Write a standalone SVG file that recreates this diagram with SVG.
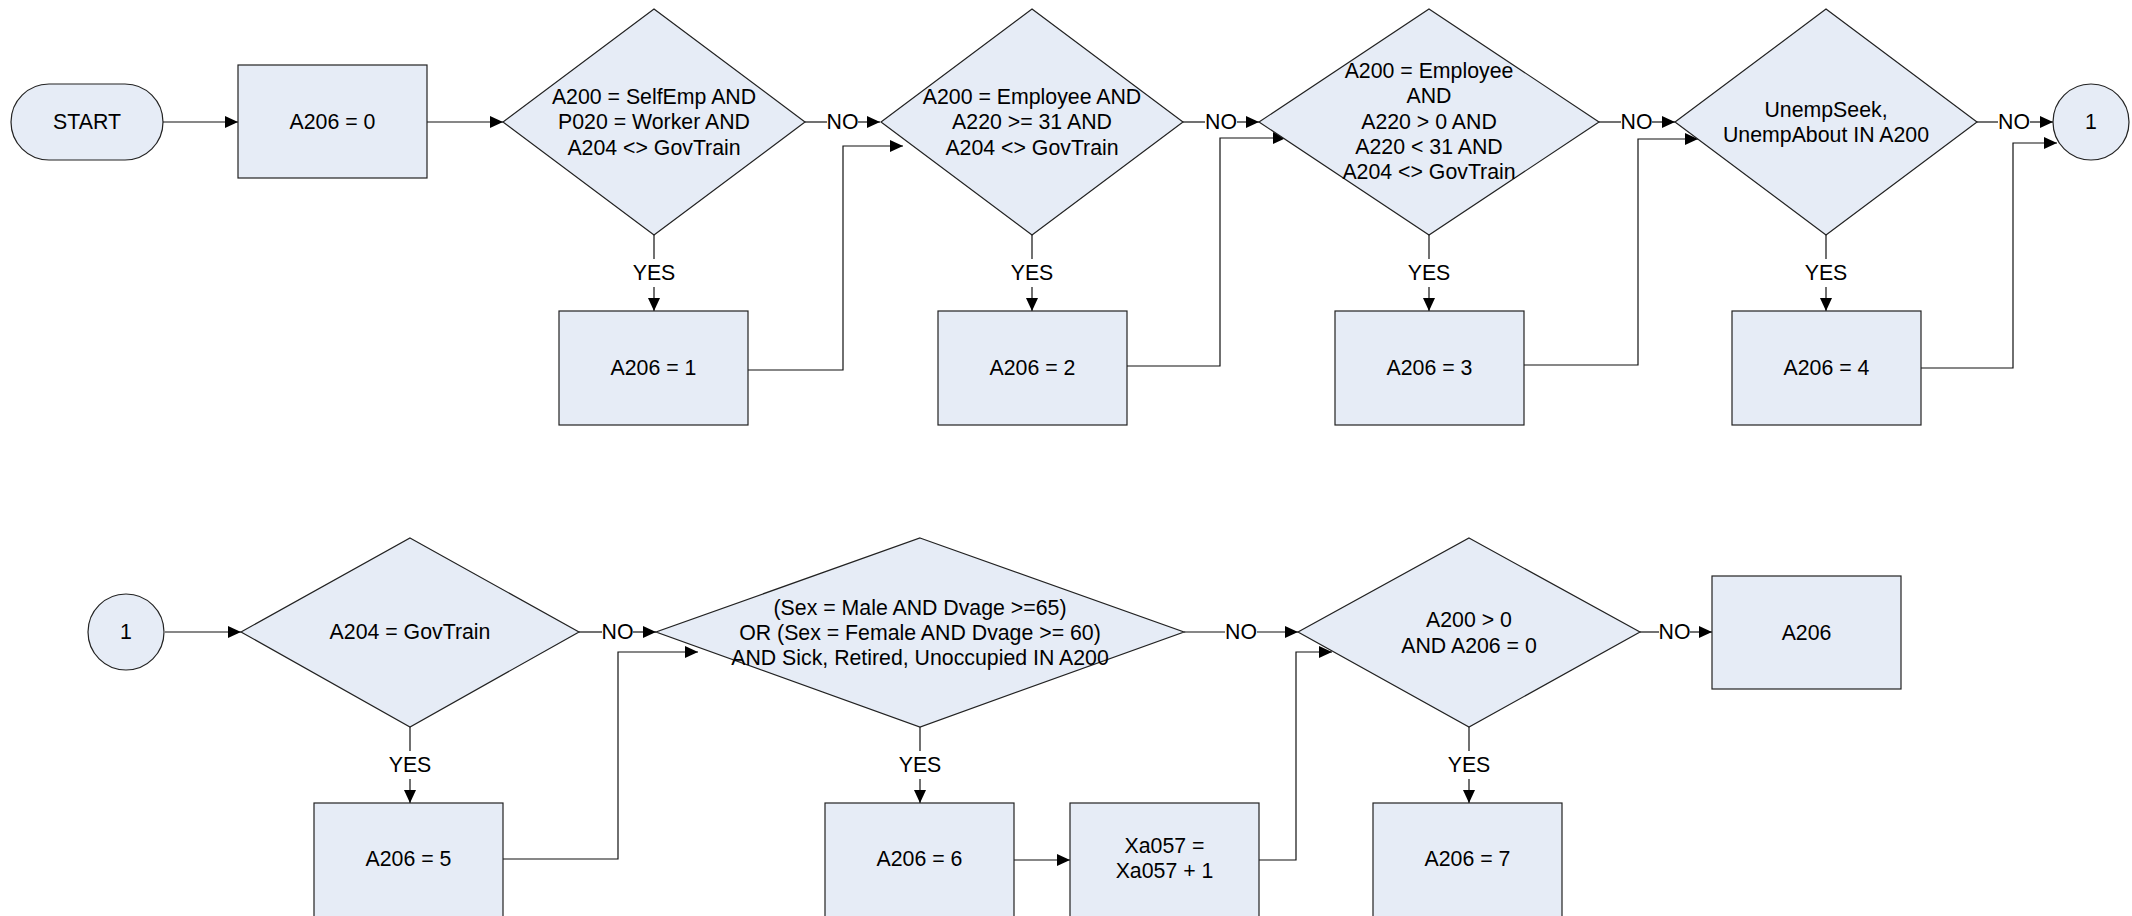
<svg xmlns="http://www.w3.org/2000/svg" width="2132" height="916" viewBox="0 0 2132 916">
<style>
.s{fill:#E6ECF6;stroke:#222;stroke-width:1.2}
.t{font-family:"Liberation Sans",Arial,sans-serif;font-size:21.3px;fill:#000;text-anchor:middle;dominant-baseline:central}
.c{fill:none;stroke:#111;stroke-width:1.2}
.a{marker-end:url(#ah)}
</style>
<defs>
<marker id="ah" viewBox="0 0 13 12" refX="13" refY="6" markerWidth="13" markerHeight="12" markerUnits="userSpaceOnUse" orient="auto">
<path d="M0,0 L13,6 L0,12 z" fill="#000"/>
</marker>
</defs>
<rect width="2132" height="916" fill="#fff"/>

<g id="connectors">
<!-- top row -->
<path class="c a" d="M163,122 H238"/>
<path class="c a" d="M427,122 H503"/>
<path class="c" d="M805,122 H827"/>
<path class="c a" d="M858,122 H880"/>
<path class="c" d="M654,235 V259"/>
<path class="c a" d="M654,287 V311"/>
<path class="c a" d="M748,370 H843 V146 H903"/>
<path class="c" d="M1183,122 H1205"/>
<path class="c a" d="M1237,122 H1259"/>
<path class="c" d="M1032,235 V259"/>
<path class="c a" d="M1032,287 V311"/>
<path class="c a" d="M1127,366 H1220 V138 H1286"/>
<path class="c" d="M1599,122 H1621"/>
<path class="c a" d="M1652,122 H1675"/>
<path class="c" d="M1429,235 V259"/>
<path class="c a" d="M1429,287 V311"/>
<path class="c a" d="M1524,365 H1638 V139 H1698"/>
<path class="c" d="M1977,122 H1998"/>
<path class="c a" d="M2030,122 H2053"/>
<path class="c" d="M1826,235 V259"/>
<path class="c a" d="M1826,287 V311"/>
<path class="c a" d="M1921,368 H2013 V143 H2057"/>
<!-- bottom row -->
<path class="c a" d="M165,632 H241"/>
<path class="c" d="M579,632 H602"/>
<path class="c a" d="M633,632 H656"/>
<path class="c" d="M410,727 V751"/>
<path class="c a" d="M410,779 V803"/>
<path class="c a" d="M503,859 H618 V652 H698"/>
<path class="c" d="M1184,632 H1225"/>
<path class="c a" d="M1257,632 H1298"/>
<path class="c" d="M920,727 V751"/>
<path class="c a" d="M920,779 V803"/>
<path class="c a" d="M1014,860 H1070"/>
<path class="c a" d="M1259,860 H1296 V652 H1332"/>
<path class="c" d="M1640,632 H1659"/>
<path class="c a" d="M1690,632 H1712"/>
<path class="c" d="M1469,727 V751"/>
<path class="c a" d="M1469,779 V803"/>
<!-- labels -->
<text class="t" x="842.5" y="122">NO</text>
<text class="t" x="1221" y="122">NO</text>
<text class="t" x="1636.5" y="122">NO</text>
<text class="t" x="2014" y="122">NO</text>
<text class="t" x="654" y="273">YES</text>
<text class="t" x="1032" y="273">YES</text>
<text class="t" x="1429" y="273">YES</text>
<text class="t" x="1826" y="273">YES</text>
<text class="t" x="617.5" y="632">NO</text>
<text class="t" x="1241" y="632">NO</text>
<text class="t" x="1674.5" y="632">NO</text>
<text class="t" x="410" y="765">YES</text>
<text class="t" x="920" y="765">YES</text>
<text class="t" x="1469" y="765">YES</text>
</g>

<g id="start">
<rect class="s" x="11" y="84" width="152" height="76" rx="38" ry="38"/>
<text class="t" x="87" y="122">START</text>
</g>
<g id="set0">
<rect class="s" x="238" y="65" width="189" height="113"/>
<text class="t" x="332.5" y="122">A206 = 0</text>
</g>
<g id="d1">
<polygon class="s" points="654,9 805,122 654,235 503,122"/>
<text class="t" x="654" y="97">A200 = SelfEmp AND</text>
<text class="t" x="654" y="122">P020 = Worker AND</text>
<text class="t" x="654" y="148">A204 &lt;&gt; GovTrain</text>
</g>
<g id="set1">
<rect class="s" x="559" y="311" width="189" height="114"/>
<text class="t" x="653.5" y="368">A206 = 1</text>
</g>
<g id="d2">
<polygon class="s" points="1032,9 1183,122 1032,235 881,122"/>
<text class="t" x="1032" y="97">A200 = Employee AND</text>
<text class="t" x="1032" y="122">A220 &gt;= 31 AND</text>
<text class="t" x="1032" y="148">A204 &lt;&gt; GovTrain</text>
</g>
<g id="set2">
<rect class="s" x="938" y="311" width="189" height="114"/>
<text class="t" x="1032.5" y="368">A206 = 2</text>
</g>
<g id="d3">
<polygon class="s" points="1429,9 1599,122 1429,235 1259,122"/>
<text class="t" x="1429" y="71">A200 = Employee</text>
<text class="t" x="1429" y="96">AND</text>
<text class="t" x="1429" y="122">A220 &gt; 0 AND</text>
<text class="t" x="1429" y="147">A220 &lt; 31 AND</text>
<text class="t" x="1429" y="172">A204 &lt;&gt; GovTrain</text>
</g>
<g id="set3">
<rect class="s" x="1335" y="311" width="189" height="114"/>
<text class="t" x="1429.5" y="368">A206 = 3</text>
</g>
<g id="d4">
<polygon class="s" points="1826,9 1977,122 1826,235 1675,122"/>
<text class="t" x="1826" y="110">UnempSeek,</text>
<text class="t" x="1826" y="135">UnempAbout IN A200</text>
</g>
<g id="set4">
<rect class="s" x="1732" y="311" width="189" height="114"/>
<text class="t" x="1826.5" y="368">A206 = 4</text>
</g>
<g id="conn1a">
<circle class="s" cx="2091" cy="122" r="38"/>
<text class="t" x="2091" y="122">1</text>
</g>

<g id="conn1b">
<circle class="s" cx="126" cy="632" r="38"/>
<text class="t" x="126" y="632">1</text>
</g>
<g id="d5">
<polygon class="s" points="410,538 579,632 410,727 241,632"/>
<text class="t" x="410" y="632">A204 = GovTrain</text>
</g>
<g id="set5">
<rect class="s" x="314" y="803" width="189" height="114"/>
<text class="t" x="408.5" y="859">A206 = 5</text>
</g>
<g id="d6">
<polygon class="s" points="920,538 1184,632 920,727 656,632"/>
<text class="t" x="920" y="608">(Sex = Male AND Dvage &gt;=65)</text>
<text class="t" x="920" y="633">OR (Sex = Female AND Dvage &gt;= 60)</text>
<text class="t" x="920" y="658">AND Sick, Retired, Unoccupied IN A200</text>
</g>
<g id="set6">
<rect class="s" x="825" y="803" width="189" height="114"/>
<text class="t" x="919.5" y="859">A206 = 6</text>
</g>
<g id="xa057">
<rect class="s" x="1070" y="803" width="189" height="114"/>
<text class="t" x="1164.5" y="846">Xa057 =</text>
<text class="t" x="1164.5" y="871">Xa057 + 1</text>
</g>
<g id="d7">
<polygon class="s" points="1469,538 1640,632 1469,727 1298,632"/>
<text class="t" x="1469" y="620">A200 &gt; 0</text>
<text class="t" x="1469" y="646">AND A206 = 0</text>
</g>
<g id="set7">
<rect class="s" x="1373" y="803" width="189" height="114"/>
<text class="t" x="1467.5" y="859">A206 = 7</text>
</g>
<g id="final">
<rect class="s" x="1712" y="576" width="189" height="113"/>
<text class="t" x="1806.5" y="633">A206</text>
</g>
</svg>
